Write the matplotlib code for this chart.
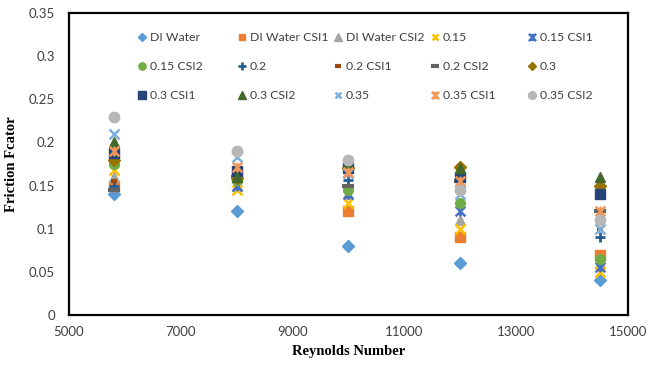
import numpy as np
import matplotlib
matplotlib.use('Agg')
import matplotlib.pyplot as plt
from matplotlib.path import Path

reynolds = [5800, 8000, 10000, 12000, 14500]

series_names = ['DI Water', 'DI Water CSI1', 'DI Water CSI2', '0.15', '0.15 CSI1',
                '0.15 CSI2', '0.2', '0.2 CSI1', '0.2 CSI2', '0.3',
                '0.3 CSI1', '0.3 CSI2', '0.35', '0.35 CSI1', '0.35 CSI2']

di_water = [0.14, 0.12, 0.08, 0.06, 0.04]
di_water_csi1 = [0.15, 0.16, 0.12, 0.09, 0.07]
di_water_csi2 = [0.16, 0.15, 0.14, 0.11, 0.06]
f_015 = [0.168, 0.145, 0.13, 0.10, 0.05]
f_015_csi1 = [0.18, 0.15, 0.14, 0.12, 0.056]
f_015_csi2 = [0.175, 0.156, 0.145, 0.13, 0.065]
f_02 = [0.15, 0.16, 0.156, 0.15, 0.09]
f_02_csi1 = [0.155, 0.165, 0.162, 0.15, 0.10]
f_02_csi2 = [0.145, 0.16, 0.15, 0.155, 0.12]
f_03 = [0.18, 0.159, 0.17, 0.172, 0.15]
f_03_csi1 = [0.188, 0.167, 0.17, 0.16, 0.14]
f_03_csi2 = [0.20, 0.16, 0.175, 0.17, 0.16]
f_035 = [0.21, 0.183, 0.165, 0.14, 0.10]
f_035_csi1 = [0.19, 0.172, 0.166, 0.155, 0.12]
f_035_csi2 = [0.23, 0.19, 0.18, 0.145, 0.11]

values = [di_water, di_water_csi1, di_water_csi2, f_015, f_015_csi1,
          f_015_csi2, f_02, f_02_csi1, f_02_csi2, f_03,
          f_03_csi1, f_03_csi2, f_035, f_035_csi1, f_035_csi2]

# asterisk-like marker: an x with a vertical stroke
star = Path([(-1, -1), (1, 1), (-1, 1), (1, -1), (0, -1), (0, 1)],
            [Path.MOVETO, Path.LINETO, Path.MOVETO, Path.LINETO, Path.MOVETO, Path.LINETO])

styles = [
    ('#5B9BD5', 'D', 6.0, 1.0),
    ('#ED7D31', 's', 6.5, 1.0),
    ('#A5A5A5', '^', 7.0, 1.0),
    ('#FFC000', 'x', 6.5, 1.8),
    ('#4472C4', star, 7.0, 1.8),
    ('#70AD47', 'o', 7.0, 1.0),
    ('#255E91', '+', 7.0, 2.0),
    ('#9E480E', '_', 5.0, 3.0),
    ('#636363', '_', 8.0, 3.0),
    ('#997300', 'D', 6.0, 1.0),
    ('#264478', 's', 7.0, 1.0),
    ('#43682B', '^', 7.0, 1.0),
    ('#7CAFDD', 'x', 6.5, 1.8),
    ('#F1975A', star, 7.0, 1.8),
    ('#B7B7B7', 'o', 7.5, 1.0),
]

plt.rcParams['font.family'] = ['Lato', 'DejaVu Sans']

W, H = 648, 368
fig = plt.figure(figsize=(W / 100, H / 100), dpi=100)
ax = fig.add_axes([0.1065, 0.144, 0.862, 0.8207])

handles = []
for name, ys, (c, m, ms, mew) in zip(series_names, values, styles):
    h, = ax.plot(reynolds, ys, linestyle='none', marker=m, color=c,
                 markersize=ms, markeredgewidth=mew, markeredgecolor=c, label=name)
    handles.append(h)

ax.set_xlim(5000, 15000)
ax.set_ylim(0, 0.35)
ax.set_xticks(np.arange(5000, 15001, 2000))
ax.set_yticks(np.arange(0, 0.351, 0.05))
ax.set_yticklabels(['0', '0.05', '0.1', '0.15', '0.2', '0.25', '0.3', '0.35'])
ax.tick_params(axis='both', length=0, labelsize=9.5, colors='#404040')
ax.tick_params(axis='y', pad=10)
ax.tick_params(axis='x', pad=8)
for sp in ax.spines.values():
    sp.set_linewidth(1.6)
    sp.set_color('black')

ax.set_xlabel('Reynolds Number', family='Liberation Serif', fontweight='bold',
              fontsize=10.5, labelpad=5)
ax.set_ylabel('Friction Fcator', family='Liberation Serif', fontweight='bold',
              fontsize=10.5, labelpad=8)

# legend: 5 equal-width columns, 3 rows, filled row by row
col_x = [138, 238, 334, 431, 528]
for c, x0 in enumerate(col_x):
    idx = [r * 5 + c for r in range(3)]
    leg = fig.legend([handles[i] for i in idx], [series_names[i] for i in idx],
                     loc='upper left', bbox_to_anchor=(x0 / W, 1 - 32 / H),
                     frameon=False, fontsize=8.8, handlelength=0.6, handletextpad=0.35,
                     labelspacing=1.48, markerscale=0.75, borderpad=0, borderaxespad=0)
    for t in leg.get_texts():
        t.set_color('#404040')

fig.savefig('out.png', dpi=100)
